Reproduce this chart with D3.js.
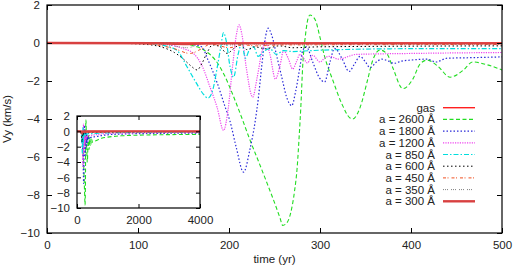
<!DOCTYPE html>
<html><head><meta charset="utf-8">
<script src="https://cdn.jsdelivr.net/npm/d3@7"></script>
<style>
body{margin:0;background:#fff}
text{font-family:"Liberation Sans",Arial,Helvetica,sans-serif;font-size:11.5px;fill:#222}
</style>
</head><body>
<svg id="c" width="516" height="266"></svg>
<script>
// ---------- data ----------
const xTicks = [0, 100, 200, 300, 400, 500];
const yTicks = [2, 0, -2, -4, -6, -8, -10];
const insetXTicks = [0, 2000, 4000];
const insetYTicks = [2, 0, -2, -4, -6, -8, -10];
const xLabel = "time (yr)";
const yLabel = "Vy (km/s)";
const seriesLabels = ["gas", "a = 2600 Å", "a = 1800 Å", "a = 1200 Å", "a = 850 Å",
  "a = 600 Å", "a = 450 Å", "a = 350 Å", "a = 300 Å"];

const tGas = [0, 500];
const vGas = [0, 0];

const t2600 = [0,130,155,165,175,185,195,204,213,223,233,242,250,256,259,263,268,272,275,277,279,281,284,286,289,292,295,300,305,314,324,333,336,344,352,358,366,374,380,391,402,410,418,429,443,457,468,484,500];
const v2600 = [0,-0.01,-0.08,-0.2,-0.45,-0.9,-1.7,-2.7,-3.8,-5.1,-6.3,-7.4,-8.4,-9.2,-9.6,-9.5,-8.9,-7.8,-6.5,-5.0,-3.3,-1.2,0.4,1.1,1.47,1.4,1.2,0.3,-0.7,-1.95,-3.2,-3.95,-4.0,-3.4,-2.0,-0.9,-0.37,-0.6,-1.3,-2.4,-1.9,-1.1,-0.9,-1.2,-1.8,-1.45,-1.0,-1.15,-1.42];

const t1800 = [0,130,155,170,177,187,196,201,208,216,223,229,232,236,240,243,247,253,258,263,269,273,278,281,285,292,299,305,311,316,324,332,338,344,350,355,362,368,375,381,390,400,418,427,440,460,500];
const v1800 = [0,-0.01,-0.05,-0.2,-0.9,-2.1,-3.4,-4.1,-5.5,-6.8,-5.6,-4.05,-3.0,-1.2,0.3,0.78,0.4,-0.8,-1.8,-2.8,-3.3,-2.6,-1.25,-0.4,-0.2,-1.0,-1.8,-2.05,-1.0,-0.28,-0.8,-1.5,-1.1,-0.7,-1.0,-1.3,-1.0,-0.85,-0.95,-1.07,-0.95,-0.9,-0.85,-1.0,-0.8,-0.78,-0.73];

const t1200 = [0,120,140,150,161,170,179,187,194,199,204,208,211,214,219,226,231,236,240,245,251,256,260,265,270,274,278,282,286,292,300,306,311,320,340,400,500];
const v1200 = [0,-0.02,-0.15,-0.3,-0.55,-1.16,-2.3,-3.4,-4.6,-3.5,-1.2,0.4,0.95,0.5,-1.3,-2.85,-1.8,-0.5,0.1,-0.6,-1.9,-1.2,-0.4,-0.8,-1.37,-1.0,-0.6,-0.8,-1.05,-0.65,-1.0,-0.75,-0.7,-0.85,-0.6,-0.55,-0.5];

const t850 = [0,110,130,143,154,164,172,177,182,187,191,194,197,201,205,210,214,218,222,227,232,238,245,252,260,270,290,320,400,500];
const v850 = [0,-0.02,-0.15,-0.4,-1.26,-2.1,-2.7,-2.9,-2.5,-1.3,-0.2,0.55,0.1,-1.2,-1.8,-0.6,0.0,-0.8,-0.4,-0.2,-0.7,-0.45,-0.3,-0.6,-0.4,-0.45,-0.4,-0.35,-0.3,-0.3];

const t600 = [0,80,110,125,140,150,158,165,170,176,182,190,198,205,212,220,228,240,255,270,300,500];
const v600 = [0,-0.02,-0.08,-0.2,-0.5,-0.85,-1.2,-1.42,-1.1,-0.5,-0.1,-0.2,-0.55,-0.3,-0.1,-0.35,-0.2,-0.3,-0.15,-0.25,-0.2,-0.15];

const t450 = [0,100,120,140,157,170,180,190,200,215,230,260,500];
const v450 = [0,-0.03,-0.1,-0.3,-0.55,-0.3,-0.05,-0.15,-0.25,-0.1,-0.15,-0.1,-0.08];

const t350 = [0,100,130,145,155,165,180,200,220,500];
const v350 = [0,-0.02,-0.08,-0.2,-0.25,-0.1,0.0,-0.1,-0.05,-0.05];

const t300 = [0,120,150,170,200,500];
const v300 = [0,-0.01,-0.05,-0.03,-0.02,-0.02];

// long-time tails shown only in the inset
const tTail = [600, 800, 1000, 1500, 2000, 3000, 4000];
const tailGas  = [0, 0, 0, 0, 0, 0, 0];
const tail2600 = [-1.25, -0.9, -0.75, -0.57, -0.5, -0.43, -0.4];
const tail1800 = [-0.7, -0.55, -0.45, -0.35, -0.3, -0.25, -0.22];
const tail1200 = [-0.45, -0.35, -0.3, -0.22, -0.18, -0.15, -0.12];
const tail850  = [-0.28, -0.22, -0.2, -0.15, -0.12, -0.1, -0.08];
const tail600  = [-0.14, -0.12, -0.1, -0.08, -0.06, -0.05, -0.05];
const tail450  = [-0.07, -0.06, -0.05, -0.04, -0.03, -0.03, -0.03];
const tail350  = [-0.05, -0.04, -0.04, -0.03, -0.03, -0.02, -0.02];
const tail300  = [-0.02, -0.02, -0.01, -0.01, -0.01, -0.01, -0.01];

// ---------- styles ----------
const styles = [
  {color:"#ff2020", width:1.4, dash:null},
  {color:"#22dd22", width:1.1, dash:"4,2.5"},
  {color:"#2a2ad8", width:1.2, dash:"1.5,2"},
  {color:"#ee44ee", width:1.2, dash:"1.2,1.2"},
  {color:"#00dede", width:1.2, dash:"5,2,1.5,2"},
  {color:"#000000", width:1.0, dash:"1.5,2.5"},
  {color:"#f05020", width:1.0, dash:"3,1.5,1,3"},
  {color:"#808080", width:1.0, dash:"1,1,1,1,1,3"},
  {color:"#d84040", width:2.4, dash:null}
];

const mainT = [tGas, t2600, t1800, t1200, t850, t600, t450, t350, t300];
const mainV = [vGas, v2600, v1800, v1200, v850, v600, v450, v350, v300];
const tails = [tailGas, tail2600, tail1800, tail1200, tail850, tail600, tail450, tail350, tail300];

// ---------- drawing ----------
const svg = d3.select("#c");
svg.append("rect").attr("width",516).attr("height",266).attr("fill","#fff");

const x = d3.scaleLinear().domain([0,500]).range([47,502]);
const y = d3.scaleLinear().domain([-10,2]).range([233,5]);

const defs = svg.append("defs");
defs.append("clipPath").attr("id","clipMain").append("rect")
  .attr("x",47).attr("y",5).attr("width",455).attr("height",228);

const mainG = svg.append("g").attr("clip-path","url(#clipMain)");
mainT.forEach((ts,i)=>{
  const pts = ts.map((t,j)=>[t, mainV[i][j]]);
  const line = d3.line().x(d=>x(d[0])).y(d=>y(d[1])).curve(d3.curveMonotoneX);
  mainG.append("path").attr("d",line(pts)).attr("fill","none")
    .attr("stroke",styles[i].color).attr("stroke-width",styles[i].width)
    .attr("stroke-dasharray",styles[i].dash);
});

function drawAxes(g, xs, ys, xt, yt, tl, padX, padY, fmt){
  const [x0,x1] = xs.range(), [y0,y1] = ys.range();
  const b = g.append("g").attr("transform",`translate(0,${y0})`)
    .call(d3.axisBottom(xs).tickValues(xt).tickSize(-tl).tickPadding(padX).tickFormat(fmt));
  const t = g.append("g").attr("transform",`translate(0,${y1})`)
    .call(d3.axisTop(xs).tickValues(xt).tickSize(-tl).tickFormat(""));
  const l = g.append("g").attr("transform",`translate(${x0},0)`)
    .call(d3.axisLeft(ys).tickValues(yt).tickSize(-tl).tickPadding(padY).tickFormat(d=>d3.format("d")(d).replace("-","\u2212")));
  const r = g.append("g").attr("transform",`translate(${x1},0)`)
    .call(d3.axisRight(ys).tickValues(yt).tickSize(-tl).tickFormat(""));
  [b,t,l,r].forEach(a=>{
    a.select(".domain").remove();
    a.selectAll("line").attr("stroke","#000");
    a.selectAll("text").style("font-size","11.5px").attr("fill","#222")
      .style("font-family",'"Liberation Sans",Arial,sans-serif');
  });
  g.append("rect").attr("x",x0).attr("y",y1).attr("width",x1-x0).attr("height",y0-y1)
    .attr("fill","none").attr("stroke","#000").attr("stroke-width",1.2);
}

const axG = svg.append("g");
drawAxes(axG, x, y, xTicks, yTicks, 5, 8, 7, d3.format("d"));

// axis titles
svg.append("text").attr("x",274.5).attr("y",263).attr("text-anchor","middle").text(xLabel);
svg.append("text").attr("transform","translate(10.5,119) rotate(-90)")
  .attr("text-anchor","middle").text(yLabel);

// legend
const lg = svg.append("g");
seriesLabels.forEach((lab,i)=>{
  const yy = 107.7 + i*11.7;
  lg.append("text").attr("x",435).attr("y",yy).attr("dy","0.35em")
    .attr("text-anchor","end").text(lab);
  lg.append("line").attr("x1",443).attr("x2",475).attr("y1",yy).attr("y2",yy)
    .attr("stroke",styles[i].color).attr("stroke-width",styles[i].width)
    .attr("stroke-dasharray",styles[i].dash);
});

// inset
const xi = d3.scaleLinear().domain([0,4000]).range([77,200]);
const yi = d3.scaleLinear().domain([-10,2]).range([208,116]);
svg.append("rect").attr("x",77).attr("y",116).attr("width",123).attr("height",92).attr("fill","#fff");
defs.append("clipPath").attr("id","clipInset").append("rect")
  .attr("x",77).attr("y",116).attr("width",123).attr("height",92);
const inG = svg.append("g").attr("clip-path","url(#clipInset)");
mainT.forEach((ts,i)=>{
  const pts = ts.map((t,j)=>[t, mainV[i][j]]).concat(tTail.map((t,j)=>[t, tails[i][j]]));
  const line = d3.line().x(d=>xi(d[0])).y(d=>yi(d[1])).curve(d3.curveMonotoneX);
  inG.append("path").attr("d",line(pts)).attr("fill","none")
    .attr("stroke",styles[i].color).attr("stroke-width",styles[i].width)
    .attr("stroke-dasharray",styles[i].dash);
});
const inAx = svg.append("g");
drawAxes(inAx, xi, yi, insetXTicks, insetYTicks, 4, 8, 7, d3.format("d"));
</script>
</body></html>
